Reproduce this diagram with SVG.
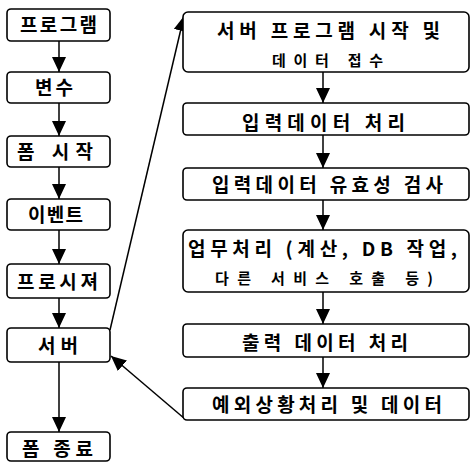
<svg xmlns="http://www.w3.org/2000/svg" width="471" height="462" viewBox="0 0 471 462">
<style>
.box{fill:#fff;stroke:#000;stroke-width:1.6}
.t{font-family:"Noto Sans CJK KR","Liberation Sans",sans-serif;font-weight:bold;font-size:19px;fill:#000}
.s{font-size:15px}
.c{stroke:#000;stroke-width:1.5;fill:none}
</style>
<defs>
<marker id="ah" markerUnits="userSpaceOnUse" markerWidth="15" markerHeight="14" refX="15" refY="7" orient="auto">
<path d="M0,0 L15,7 L0,14 z" fill="#000"/>
</marker>
</defs>
<rect width="471" height="462" fill="#fff"/>
<g id="connectors">
<line class="c" x1="59" y1="41" x2="59" y2="72" marker-end="url(#ah)"/>
<line class="c" x1="59" y1="103" x2="59" y2="136" marker-end="url(#ah)"/>
<line class="c" x1="59" y1="167" x2="59" y2="199" marker-end="url(#ah)"/>
<line class="c" x1="59" y1="230" x2="59" y2="264" marker-end="url(#ah)"/>
<line class="c" x1="59" y1="298" x2="59" y2="328" marker-end="url(#ah)"/>
<line class="c" x1="59" y1="362" x2="59" y2="432" marker-end="url(#ah)"/>
<line class="c" x1="323" y1="72" x2="323" y2="103" marker-end="url(#ah)"/>
<line class="c" x1="323" y1="135" x2="323" y2="168" marker-end="url(#ah)"/>
<line class="c" x1="323" y1="200" x2="323" y2="230" marker-end="url(#ah)"/>
<line class="c" x1="323" y1="292" x2="323" y2="324" marker-end="url(#ah)"/>
<line class="c" x1="323" y1="357" x2="323" y2="388" marker-end="url(#ah)"/>
<line class="c" x1="110" y1="330" x2="184" y2="16" marker-end="url(#ah)"/>
<line class="c" x1="185" y1="419" x2="111" y2="356" marker-end="url(#ah)"/>
</g>
<g id="n1"><rect class="box" x="7" y="9" width="103" height="32" rx="4"/><text class="t" x="20" y="32" textLength="77" lengthAdjust="spacing">프로그램</text></g>
<g id="n2"><rect class="box" x="7" y="72" width="103" height="31" rx="4"/><text class="t" x="35" y="95" textLength="38" lengthAdjust="spacing">변수</text></g>
<g id="n3"><rect class="box" x="7" y="136" width="103" height="31" rx="4"/><text class="t" x="17" y="159" textLength="76" lengthAdjust="spacing">폼 시작</text></g>
<g id="n4"><rect class="box" x="7" y="199" width="103" height="31" rx="4"/><text class="t" x="28" y="222" textLength="55" lengthAdjust="spacing">이벤트</text></g>
<g id="n5"><rect class="box" x="7" y="264" width="103" height="34" rx="4"/><text class="t" x="17" y="289" textLength="81" lengthAdjust="spacing">프로시져</text></g>
<g id="n6"><rect class="box" x="7" y="328" width="103" height="34" rx="4"/><text class="t" x="38" y="353" textLength="40" lengthAdjust="spacing">서버</text></g>
<g id="n7"><rect class="box" x="7" y="432" width="103" height="29" rx="4"/><text class="t" x="22" y="456" textLength="71" lengthAdjust="spacing">폼 종료</text></g>
<g id="r1"><rect class="box" x="183" y="12" width="286" height="60" rx="5"/><text class="t" x="217" y="38" textLength="223" lengthAdjust="spacing">서버 프로그램 시작 및</text><text class="t s" x="272" y="66" textLength="111" lengthAdjust="spacing">데이터 접수</text></g>
<g id="r2"><rect class="box" x="183" y="103" width="286" height="32" rx="4"/><text class="t" x="242" y="130" textLength="163" lengthAdjust="spacing">입력데이터 처리</text></g>
<g id="r3"><rect class="box" x="183" y="168" width="286" height="32" rx="4"/><text class="t" x="212" y="192" textLength="231" lengthAdjust="spacing">입력데이터 유효성 검사</text></g>
<g id="r4"><rect class="box" x="183" y="230" width="286" height="62" rx="5"/><text class="t" x="188" y="256" textLength="269" lengthAdjust="spacing">업무처리 (계산, DB 작업,</text><text class="t s" x="215" y="284" textLength="218" lengthAdjust="spacing">다른 서비스 호출 등)</text></g>
<g id="r5"><rect class="box" x="183" y="324" width="286" height="33" rx="4"/><text class="t" x="242" y="350" textLength="166" lengthAdjust="spacing">출력 데이터 처리</text></g>
<g id="r6"><rect class="box" x="183" y="388" width="286" height="32" rx="4"/><text class="t" x="212" y="412" textLength="230" lengthAdjust="spacing">예외상황처리 및 데이터</text></g>
</svg>
